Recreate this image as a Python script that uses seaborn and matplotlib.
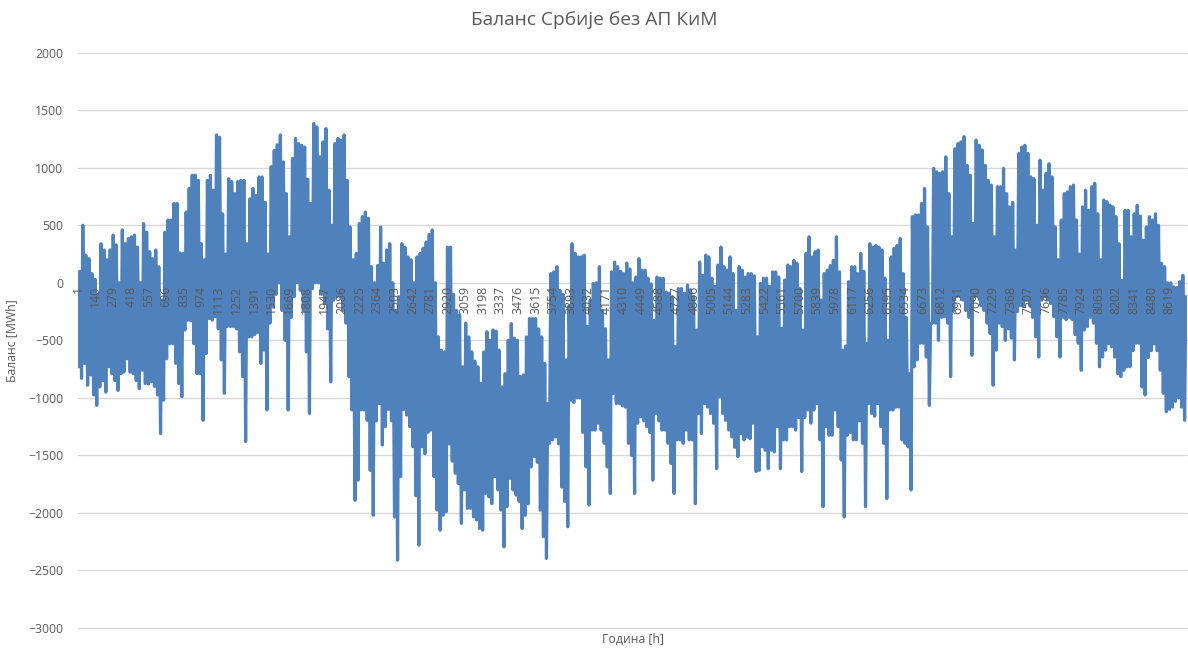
import numpy as np
import pandas as pd
import matplotlib
matplotlib.use("Agg")
import matplotlib.pyplot as plt
import seaborn as sns

# Daily peak (daytime) and trough (night) of the hourly balance, MWh, days 1..365
daily_high = [
    100, 500, 240, 210, 80, 30, -100,
    340, 285, 200, 285, 415, 330, 0,
    460, 340, 385, 400, 415, 310, 0,
    515, 440, 270, 210, 285, 140, -150,
    440, 545, 545, 690, 690, 260, 255,
    615, 820, 935, 935, 890, 340, 200,
    890, 935, 805, 1285, 1265, 600, 250,
    905, 880, 775, 880, 890, 890, 340,
    730, 820, 760, 920, 920,
    700, 250, 1010, 1150, 1200, 1285, 1050,
    775, 400, 1080, 1255, 1210, 1195, 1180,
    900, 690, 1385, 1355, 1095, 1225, 1340,
    805, 500, 1210, 1255, 1240, 1285, 890,
    485, 200, 255, 515, 575, 615, 560,
    140, 0, 150, 485, 170, 285, 340,
    0, -240, -120, 340, 310, 225, 200,
    0, 225, 255, 300, 355, 420, 460,
    0, -470, -585, -600, 310,
    310, -100, -240, -280, -730, -350, -470,
    -600, -680, -730, -875, -600, -425, -500,
    -410, -420, -585, -905, -790, -500, -355,
    -480, -500, -815, -800, -470, -310, -310,
    -310, -400, -470, -700, -1050, 80, 95,
    140, -65, -100, -670, -200, 340, 255,
    225, 225, 240, -380, -150, -5, 0,
    140, -240, -400, -670, 95, 180, 140,
    100, 80, 170, 120, 0,
    50, 210, 110, 110, 40, -10, -325,
    50, 40, 40, -80, -90, -120, -555,
    -50, -50, -90, -20, -60, -120, -410,
    180, 65, 240, 225, 40, -30, 155,
    310, 140, 110, 225, 80, -240, 140,
    110, 50, 80, 80, 60, -470, -5,
    40, 40, -30, 95, 95, 50, -395,
    25, 155, 140, 195, 170, -50, -410,
    255, 400, 225, 270, 285,
    -150, 80, 110, 150, 195, 400, 95,
    -585, -550, 10, 140, 140, 80, 255,
    100, -525, 340, 310, 325, 310, 285,
    40, -500, 225, 300, 325, 385, 80,
    -300, -790, 575, 590, 590, 690, 820,
    485, -355, 995, 965, 950, 965, 1095,
    775, 400, 1165, 1210, 1225, 1270, 1020,
    935, 515, 1240, 1195, 1155, 1020, 890,
    850, 400, 835, 835, 995,
    775, 660, 700, 285, 1125, 1180, 1195,
    1125, 920, 905, 500, 1065, 805, 950,
    1035, 920, 485, 200, 545, 775, 790,
    835, 850, 545, 250, 660, 805, 630,
    835, 865, 600, 200, 720, 705, 675,
    660, 575, 340, 20, 630, 630, 400,
    600, 675, 580, 370, 485, 575, 545,
    600, 500, 170, 140, 0, 0, -35,
    -40, 10, 65, -120,
]

daily_low = [
    -730, -830, -700, -890, -800, -975, -1065,
    -905, -850, -950, -730, -790, -850, -935,
    -790, -775, -660, -775, -790, -850, -920,
    -760, -875, -880, -860, -900, -975, -1310,
    -1020, -660, -530, -530, -700, -875, -990,
    -410, -325, -330, -530, -790, -790, -1195,
    -615, -310, -325, -295, -400, -670, -960,
    -380, -380, -380, -400, -600, -815, -1380,
    -470, -470, -450, -430, -700,
    -585, -1105, -350, -210, -100, 0, -240,
    -500, -1105, -300, -120, 0, -65, -240,
    -600, -1135, -50, 0, 0, -100, -180,
    -400, -860, -150, -120, -120, -240, -350,
    -815, -1105, -1890, -1715, -1105, -1105, -1195,
    -1630, -2020, -1200, -1050, -1410, -1250, -1100,
    -1200, -2035, -2410, -1685, -1100, -1150, -1250,
    -1425, -1850, -2280, -1425, -1485, -1300, -1280,
    -1685, -1975, -2150, -2020, -1990,
    -1400, -1550, -1655, -1745, -2090, -1800, -1960,
    -1960, -2035, -2060, -2135, -2150, -1830, -1860,
    -1920, -1685, -1800, -1975, -2295, -1945, -1700,
    -1800, -1845, -1900, -2135, -2020, -1920, -1600,
    -1510, -1560, -1975, -2205, -2395, -1395, -1365,
    -1340, -1400, -1775, -1900, -2120, -1020, -1040,
    -1000, -1000, -1300, -1600, -1930, -1280, -1280,
    -1220, -1280, -1395, -1600, -1830, -960, -1050,
    -1050, -1070, -1080, -1395, -1500,
    -1830, -1220, -1165, -1200, -1250, -1300, -1715,
    -1135, -1200, -1280, -1280, -1395, -1570, -1830,
    -1365, -1365, -1395, -1280, -1365, -1365, -1920,
    -1135, -1310, -1050, -1080, -1135, -1220, -1615,
    -990, -1135, -1195, -1280, -1340, -1430, -1510,
    -1310, -1365, -1340, -1355, -1220, -1640, -1630,
    -1425, -1455, -1615, -1455, -1470, -1250, -1615,
    -1365, -1365, -1250, -1250, -1280, -1170, -1640,
    -1170, -1105, -1220, -1105, -1050,
    -1365, -1945, -1250, -1325, -1325, -1105, -1250,
    -1540, -2035, -1325, -1300, -1365, -1365, -1200,
    -1395, -1945, -1050, -1135, -1160, -1050, -1250,
    -1395, -1875, -1105, -1105, -1080, -1080, -1365,
    -1395, -1425, -1800, -730, -670, -525, -525,
    -645, -1065, -350, -350, -500, -300, -295,
    -350, -815, -240, -120, -120, -150, -240,
    -300, -630, -120, -120, -200, -240, -350,
    -440, -890, -585, -350, -380,
    -500, -400, -480, -670, -250, -200, -200,
    -150, -200, -300, -470, -645, -150, -120,
    -150, -180, -295, -470, -645, -300, -320,
    -300, -320, -450, -525, -760, -410, -380,
    -300, -350, -525, -730, -645, -585, -530,
    -555, -645, -790, -815, -760, -730, -730,
    -590, -525, -525, -905, -975, -650, -590,
    -530, -590, -760, -960, -1120, -1100, -1080,
    -1030, -1000, -1080, -1195,
]

# Category labels shown on the hour axis (every 139th hour)
hour_labels = list(range(1, 8620, 139))

title = "Баланс Србије без АП КиМ"
x_title = "Година [h]"
y_title = "Баланс [MWh]"

# Night trough and daytime peak of each day, in hour-of-year order
days = np.arange(len(daily_high))
hours = np.column_stack([24 * days + 5, 24 * days + 15]).ravel()
balance = np.column_stack([daily_low, daily_high]).ravel()
df = pd.DataFrame({"hour": hours, "balance": balance})

sns.set_theme(style="white")
plt.rcParams["font.family"] = ["Open Sans", "DejaVu Sans"]

W, H = 1188, 650
fig = plt.figure(figsize=(W / 100, H / 100), dpi=100)
left, right, top, bottom = 78, 1187, 52.7, 628
ax = fig.add_axes([left / W, 1 - bottom / H, (right - left) / W, (bottom - top) / H])

sns.lineplot(data=df, x="hour", y="balance", ax=ax, color="#4f81bd",
             linewidth=2.3, estimator=None, sort=False)

ax.set_xlim(1, 8760)
ax.set_ylim(-3000, 2000)
ax.set_yticks(np.arange(-3000, 2001, 500))
ax.grid(axis="y", color="#d9d9d9", linewidth=1.0)
ax.grid(axis="x", visible=False)
ax.set_axisbelow(True)
ax.xaxis.set_zorder(3)
for gl in ax.get_ygridlines():
    gl.set_clip_on(False)

for s in ax.spines.values():
    s.set_visible(False)
ax.spines["bottom"].set_position(("data", 0))

ax.set_xticks(hour_labels)
ax.set_xticklabels([str(h) for h in hour_labels], rotation=90)
ax.tick_params(axis="x", length=0, pad=2, labelsize=8.8, labelcolor="#595959")
ax.tick_params(axis="y", length=0, pad=10.5, labelsize=8.8, labelcolor="#595959")

ax.set_xlabel(x_title, fontsize=8.8, color="#595959")
ax.xaxis.set_label_coords(0.5, -0.008)
ax.set_ylabel(y_title, fontsize=8.8, color="#595959")
ax.yaxis.set_label_coords(-0.054, 0.5)

fig.text(0.5, 1 - 20 / H, title, ha="center", va="center",
         fontsize=13.8, color="#595959")

fig.savefig("out.png", dpi=100, facecolor="white")
